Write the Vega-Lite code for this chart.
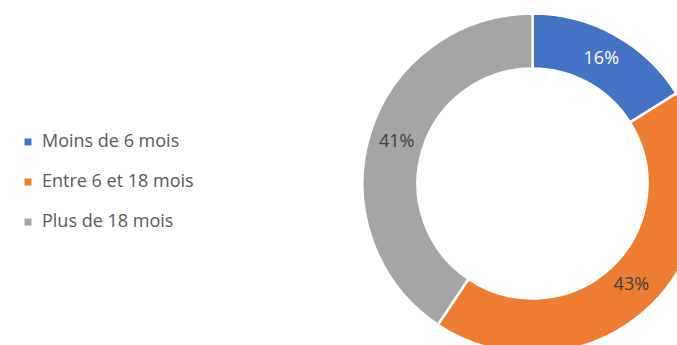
{
  "$schema": "https://vega.github.io/schema/vega-lite/v6.json",
  "width": 1065,
  "height": 367,
  "autosize": {"type": "none"},
  "padding": 0,
  "background": "white",
  "view": {"stroke": null},
  "data": {"values": [
    {"cat": "Moins de 6 mois", "share": 0.161, "order": 1},
    {"cat": "Entre 6 et 18 mois", "share": 0.433, "order": 2},
    {"cat": "Plus de 18 mois", "share": 0.406, "order": 3}
  ]},
  "encoding": {
    "theta": {"field": "share", "type": "quantitative", "stack": true},
    "order": {"field": "order", "type": "quantitative"}
  },
  "layer": [
    {
      "mark": {"type": "arc", "outerRadius": 170, "innerRadius": 115, "stroke": "white", "strokeWidth": 2.5},
      "encoding": {
        "color": {
          "field": "cat", "type": "nominal",
          "scale": {"domain": ["Moins de 6 mois", "Entre 6 et 18 mois", "Plus de 18 mois"], "range": ["#4472C4", "#ED7D31", "#A5A5A5"]},
          "legend": {
            "title": null, "orient": "none", "legendX": 19, "legendY": 133,
            "symbolType": "square", "symbolSize": 49, "symbolStrokeWidth": 0,
            "labelFont": "Open Sans", "labelFontSize": 18, "labelColor": "#595959",
            "labelOffset": 5, "rowPadding": 22, "labelLimit": 300
          }
        }
      }
    },
    {
      "mark": {"type": "text", "radius": 142, "font": "Open Sans", "fontSize": 18},
      "encoding": {
        "text": {"field": "share", "type": "quantitative", "format": ".0%"},
        "color": {
          "field": "cat", "type": "nominal",
          "scale": {"domain": ["Moins de 6 mois", "Entre 6 et 18 mois", "Plus de 18 mois"], "range": ["#FFFFFF", "#404040", "#404040"]},
          "legend": null
        }
      }
    }
  ],
  "resolve": {"scale": {"color": "independent"}}
}
